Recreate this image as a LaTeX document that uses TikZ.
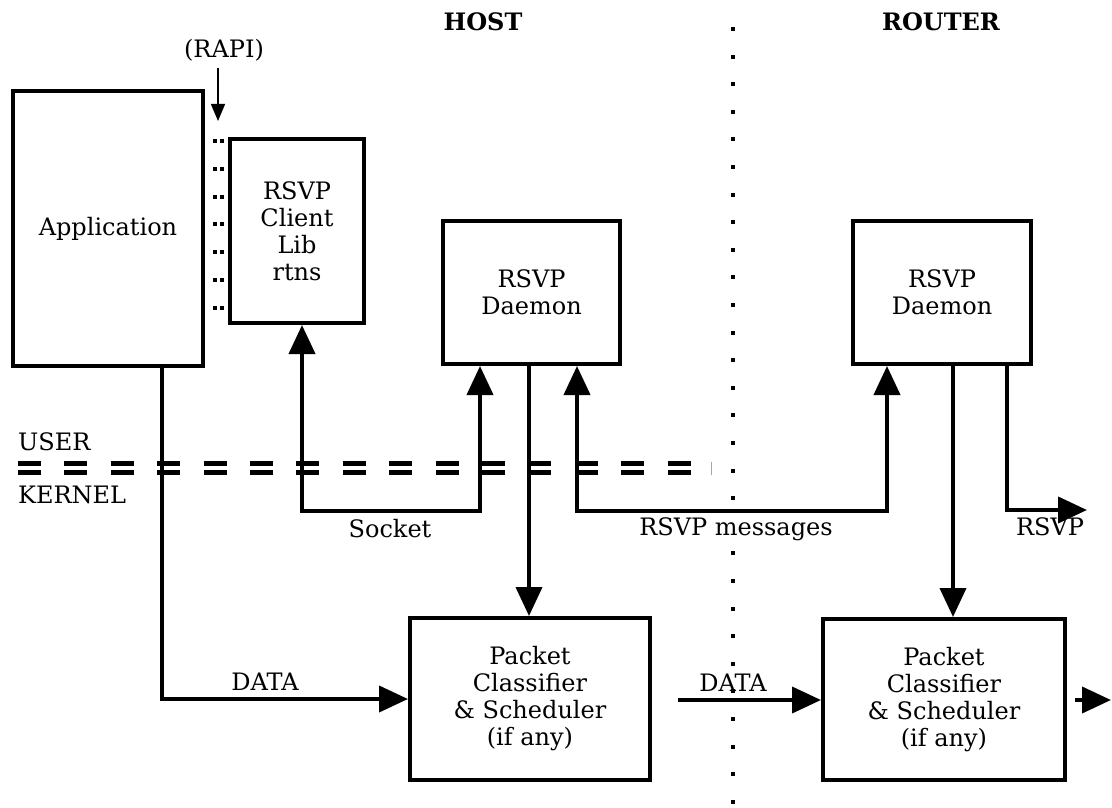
\documentclass[tikz,border=0pt]{standalone}
\usepackage{fontspec}
\setmainfont{DejaVu Serif}
\usetikzlibrary{arrows.meta}
\begin{document}
\begin{tikzpicture}[x=1pt,y=-1pt,
  every node/.style={font=\fontsize{24}{27}\selectfont, inner sep=0pt},
  box/.style={draw, line width=4pt, align=center},
  conn/.style={line width=4pt, -{Triangle[length=29pt,width=26pt]}},
  conntwo/.style={line width=4pt, {Triangle[length=29pt,width=26pt]}-{Triangle[length=29pt,width=26pt]}},
  thinarrow/.style={line width=1.5pt, -{Triangle[length=17pt,width=14pt]}},
  lbl/.style={anchor=base},
  hdr/.style={anchor=base, font=\fontsize{24}{27}\selectfont\bfseries},
  dashes/.style={line width=5pt, dash pattern=on 23pt off 23.4pt}
  ]
\useasboundingbox (0,0) rectangle (1112,808);

% boxes
\node[box, minimum width=190pt, minimum height=275pt] (app) at (108,228.5) {Application};
\node[box, minimum width=134pt, minimum height=184pt] (lib) at (297,231) {RSVP\\Client\\Lib\\rtns};
\node[box, minimum width=177pt, minimum height=143pt] (hd) at (531.5,292.5) {RSVP\\Daemon};
\node[box, minimum width=178pt, minimum height=143pt] (rd) at (942,292.5) {RSVP\\Daemon};
\node[box, minimum width=240pt, minimum height=162pt] (hpkt) at (530,699) {Packet\\Classifier\\\& Scheduler\\(if any)};
\node[box, minimum width=242pt, minimum height=161pt] (rpkt) at (944,699.5) {Packet\\Classifier\\\& Scheduler\\(if any)};

% headers and labels
\node[hdr] (host) at (483,31) {HOST};
\node[hdr] (router) at (941,31) {ROUTER};
\node[lbl] (rapi) at (224,58) {(RAPI)};
\node[lbl, anchor=base west] (user) at (18,450) {USER};
\node[lbl, anchor=base west] (kernel) at (18,503) {KERNEL};
\node[lbl] (socket) at (390,537) {Socket};
\node[lbl] (msgs) at (736,535) {RSVP messages};
\node[lbl] (rsvplbl) at (1050,535) {RSVP};
\node[lbl] (data1) at (265,690) {DATA};
\node[lbl] (data2) at (733,691) {DATA};

% helper coordinates
\coordinate (ax) at (162,0);
\coordinate (sx) at (302,0);
\coordinate (hx1) at (480,0);
\coordinate (hx2) at (529,0);
\coordinate (hx3) at (577,0);
\coordinate (rx1) at (887,0);
\coordinate (rx2) at (953,0);
\coordinate (rx3) at (1007,0);
\coordinate (msgY) at (0,511);
\coordinate (rsvpEnd) at (1087,510);
\coordinate (midStart) at (678,700);
\coordinate (outStart) at (1075,700);
\coordinate (outEnd) at (1111,700);
\coordinate (rapiX) at (218,0);
\coordinate (rapiEnd) at (218,121);

% user / kernel boundary
\draw[dashes] (18,463.5) -- (691,463.5);
\draw[dashes] (18,472.5) -- (691,472.5);
\draw[line width=0.8pt, black!35] (711.5,462) -- (711.5,475);

% host / router separator
\foreach \k in {0,...,17,19,20,...,28}
  \fill (731,{27+27.6*\k}) rectangle ++(4,4);

% API dots
\foreach \k in {0,...,6} {
  \fill (213,{139+27.8*\k}) rectangle ++(4,4);
  \fill (219.5,{139+27.8*\k}) rectangle ++(4,4);
}

% connectors
\draw[thinarrow] (rapi.south -| rapiX) ++(0,6) -- (rapiEnd);
\draw[conn] (app.south -| ax) |- (hpkt.west);
\draw[conntwo] (lib.south -| sx) -- (sx |- msgY) -- (hx1 |- msgY) -- (hd.south -| hx1);
\draw[conntwo] (hd.south -| hx3) -- (hx3 |- msgY) -- (rx1 |- msgY) -- (rd.south -| rx1);
\draw[conn] (hd.south -| hx2) -- (hpkt.north -| hx2);
\draw[conn] (rd.south -| rx2) -- (rpkt.north -| rx2);
\draw[conn] (rd.south -| rx3) |- (rsvpEnd);
\draw[conn] (midStart) -- (rpkt.west |- midStart);
\draw[conn] (outStart) -- (outEnd);
\end{tikzpicture}
\end{document}
